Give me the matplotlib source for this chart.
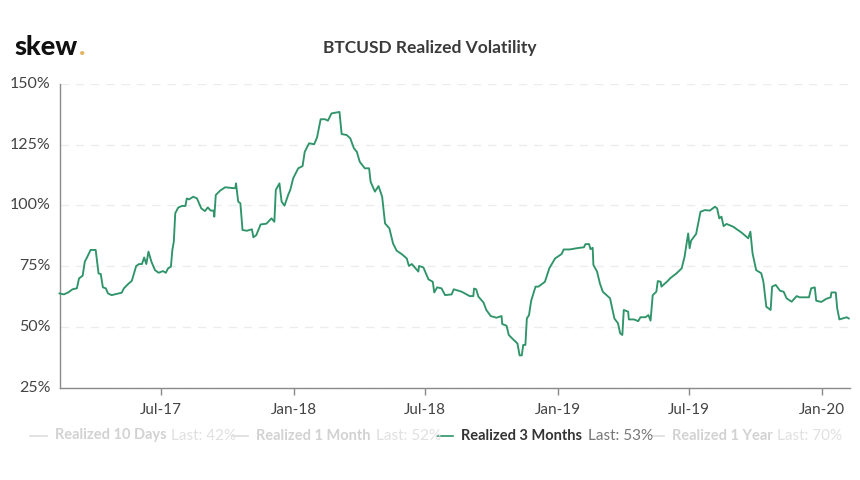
import matplotlib
matplotlib.use("Agg")
import matplotlib.pyplot as plt
from matplotlib.lines import Line2D
from datetime import date, timedelta

plt.rcParams['font.family'] = ['Lato', 'DejaVu Sans']

start_date = date(2017, 2, 11)
end_days = 1092
days = [0,6,12,18,24,27,32,35,38,43,50,54,57,60,64,67,72,79,86,89,95,100,106,110,114,117,120,123,127,132,137,143,147,150,154,156,158,160,164,169,174,176,179,185,190,196,201,205,209,213,214,216,222,229,238,243,244,247,250,253,259,266,268,272,278,286,293,297,299,304,307,311,316,319.5,323,330,336,339,345,352,356.4,361,367,371,376,387,390,397,402.5,407,411.7,415.4,422,428,430,436,441.6,446.7,450.4,456,461.4,466,473,480,483.5,487,496,497.4,503,510,516,518,522,528,533,542,545,556,567.4,572,573.4,576.6,579,586.7,590.4,596,604,611,612.5,618,621,627.3,633,636.5,639.3,641,644,646.6,649.4,652.6,658.6,662,671,677,685,694,697.3,705.6,717,725,727.7,732,734,737,738,743.4,747,751.7,761,764.6,767.8,772.4,775.6,778.4,780.3,786.2,787.6,794,800,803.3,810.7,814,817,820.8,825.4,827.7,831,832.3,841.5,844.8,853,860,864.6,869.2,871.5,873,880.7,886.2,892.2,899,906,909.2,912,915.2,918.5,922,931.4,943,952,955,958,963.6,970.5,973.8,977.4,983,985.7,990.3,996,1001.4,1005,1012,1019,1023.5,1036.4,1039.6,1044,1046.5,1053.4,1060.4,1066,1067.3,1073.3,1075.6,1078,1088,1091.7]
realized_3m = [63.8,63.4,64.2,65.5,65.9,70,71.1,76.9,78.6,81.7,81.7,72,71.8,66.3,65.9,63.8,63.1,63.6,64.1,65.9,67.7,69,75.1,75.9,75.9,78.6,75.9,81,76.9,73.4,72.3,73,72.3,74.1,74.8,81.7,85.1,96.8,99.1,99.8,99.8,102.9,102.5,103.6,102.9,98.8,97.7,99.2,97.9,97.9,95.4,104.3,106.1,107.5,107.2,107.1,109.1,101.6,100.9,89.9,89.6,90.2,86.9,87.8,92.2,92.5,94.7,93.3,106.4,109.1,101.6,99.9,104.3,106.4,111.2,115.3,116.2,122.1,125.6,125.2,128,135.5,135.5,134.9,137.9,138.5,129.4,129,127.6,123.5,122.1,118,115.3,115.3,109.8,105.7,108,103.6,92.6,90.6,84.4,81.4,80,78.2,75.1,75.9,72.8,75.1,74.5,69.6,68.6,64.2,66.3,65.9,63.1,63.4,65.5,64.5,62.7,62.7,65.8,65.5,62.5,60.1,57,54.5,53.8,54.5,51.2,50.5,46.7,44.9,43.2,38.3,38.3,42.6,42.6,53.5,54.9,60.8,66.6,66.6,68.6,74.1,78.2,80,81.9,81.9,82.5,82.8,84.1,84.1,82,82.6,75.5,72.8,67.9,64.5,61.8,57.7,53.5,51.5,47.4,46.7,57,56.3,53.1,53.1,52.4,54,54,54.9,52.6,63.1,64.5,68.9,68.6,66.6,69,70,72.1,74.1,78.9,88.5,82.4,85.5,88.3,97.4,98.1,97.9,99.5,98.8,94.7,95.4,91.5,92.4,91.3,88.8,86.5,89.2,80.3,73.4,72.1,68.6,58.3,57,66.6,67.3,64.9,64.5,61.8,60.4,62.7,62.2,62.2,65.9,66.3,60.8,60.3,61.6,62.2,64.2,64.2,57.7,53.1,54,53.5]
y_ticks = [25, 50, 75, 100, 125, 150]
x_tick_dates = [date(2017,7,1), date(2018,1,1), date(2018,7,1), date(2019,1,1), date(2019,7,1), date(2020,1,1)]
x_tick_labels = ['Jul-17', 'Jan-18', 'Jul-18', 'Jan-19', 'Jul-19', 'Jan-20']
series_names = ['Realized 10 Days', 'Realized 1 Month', 'Realized 3 Months', 'Realized 1 Year']
series_last = ['Last: 42%', 'Last: 52%', 'Last: 53%', 'Last: 70%']

W, H = 860, 480
GREEN = '#2f9469'
fig = plt.figure(figsize=(W/100, H/100), dpi=100, facecolor='white')
L, R, T, B = 59.5, 849.5, 84, 387.7
ax = fig.add_axes([L/W, 1-B/H, (R-L)/W, (B-T)/H])

dates = [start_date + timedelta(days=float(d)) for d in days]
ax.plot(dates, realized_3m, color=GREEN, lw=1.35, solid_joinstyle='round', clip_on=False, zorder=3)
ax.set_xlim(start_date, start_date + timedelta(days=end_days))
ax.set_ylim(25, 150)
ax.set_yticks(y_ticks)
ax.set_yticklabels([f'{v}%' for v in y_ticks])
ax.set_xticks(x_tick_dates)
ax.set_xticklabels(x_tick_labels)
ax.grid(axis='y', color='#ececec', lw=1, linestyle=(0, (6, 5)))
ax.set_axisbelow(True)
for s in ('top', 'right'):
    ax.spines[s].set_visible(False)
for s in ('left', 'bottom'):
    ax.spines[s].set_color('#8a8a8a')
    ax.spines[s].set_linewidth(1.0)
ax.tick_params(axis='y', length=0, pad=6.5, labelsize=11.5, labelcolor='#444444')
ax.tick_params(axis='x', length=5, width=1, color='#8a8a8a', pad=6, labelsize=11, labelcolor='#444444')
for lab in ax.get_yticklabels():
    lab.set_verticalalignment('center')

def px(x, y):
    return x/W, 1-y/H

fig.text(*px(429.5, 48.5), 'BTCUSD Realized Volatility', ha='center', va='center',
         fontsize=12.5, fontweight='bold', color='#3a3a3a')
fig.text(*px(14, 55), 'skew', ha='left', va='baseline', fontsize=19.5, fontweight='black', color='#111111')
fig.text(*px(78.5, 55), '.', ha='left', va='baseline', fontsize=19.5, fontweight='black', color='#e3b464')

legend_y = 435.5
line_x = [(30, 47), (232, 248), (437, 453), (652, 664)]
name_x = [55, 256, 461, 672]
last_x = [171, 376, 588, 777]
name_col = ['#d2d2d2', '#d2d2d2', '#333333', '#d2d2d2']
last_col = ['#e0e0e0', '#e0e0e0', '#777777', '#e0e0e0']
handle_col = ['#dddddd', '#dddddd', GREEN, '#dddddd']
for i, name in enumerate(series_names):
    x0, x1 = line_x[i]
    fig.add_artist(Line2D([x0/W, x1/W], [1-legend_y/H]*2, color=handle_col[i], lw=1.2))
    fig.text(*px(name_x[i], legend_y), name, ha='left', va='center', fontsize=10.5, fontweight='bold', color=name_col[i])
    fig.text(*px(last_x[i], legend_y), series_last[i], ha='left', va='center', fontsize=11, color=last_col[i])

fig.savefig('out.png', dpi=100, facecolor='white')
